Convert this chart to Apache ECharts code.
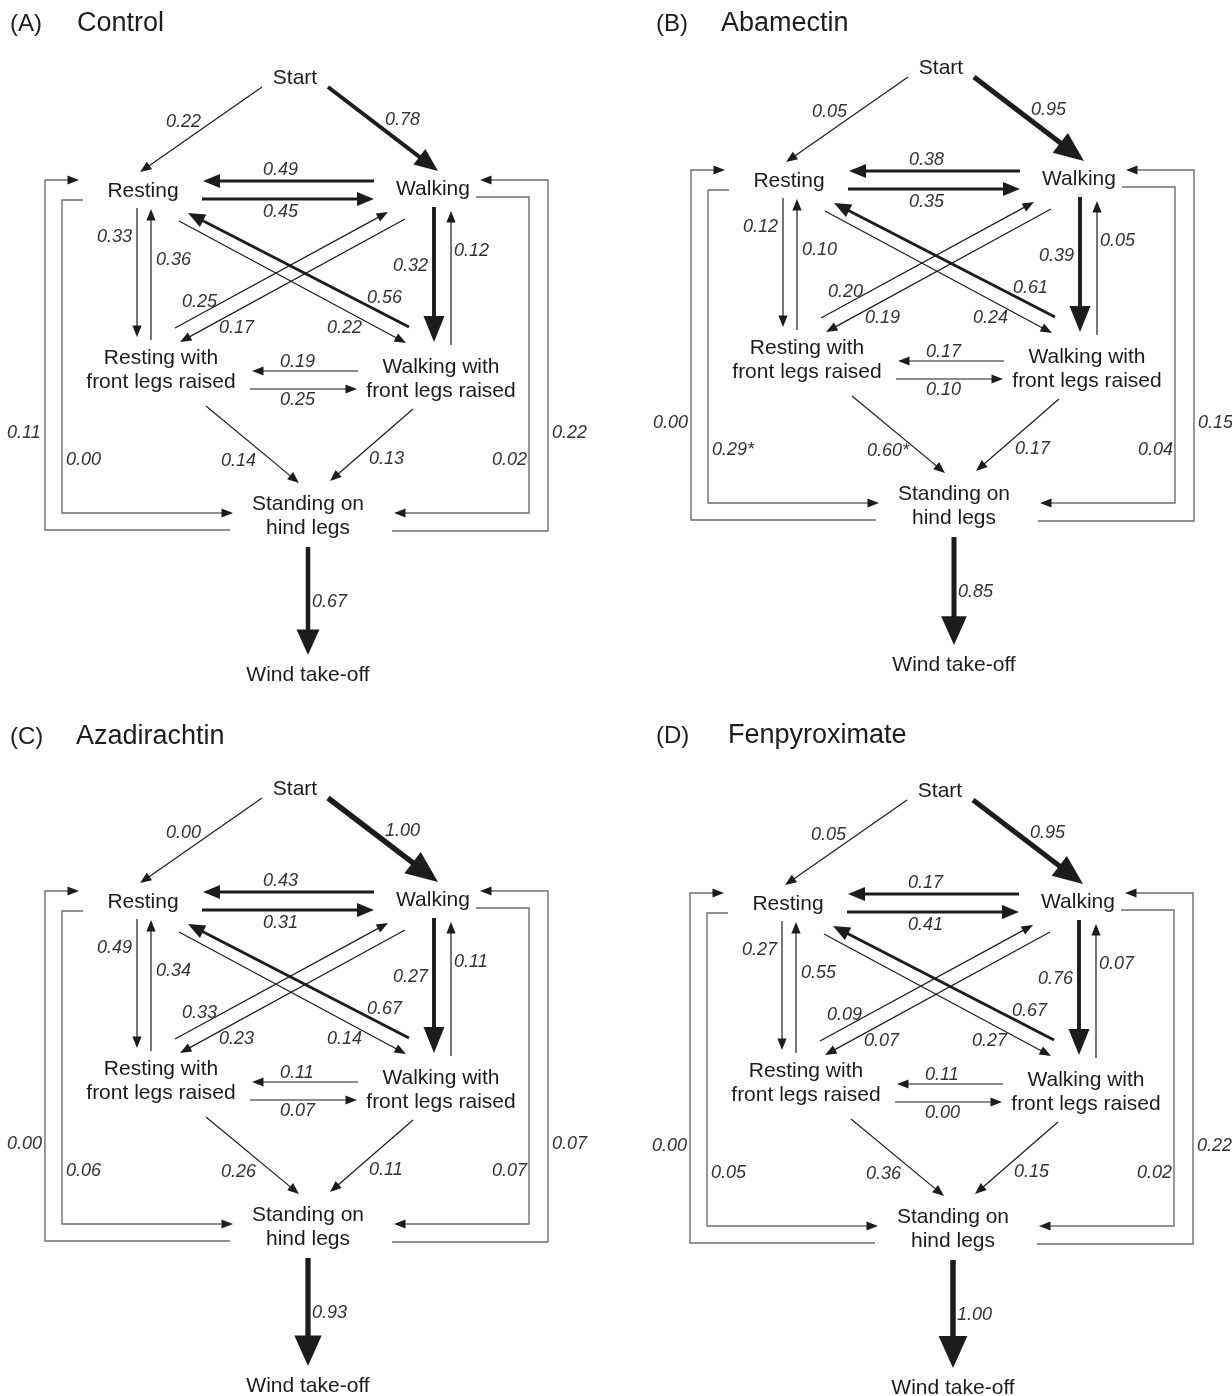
<!DOCTYPE html>
<html><head><meta charset="utf-8">
<script src="https://cdn.jsdelivr.net/npm/echarts/dist/echarts.min.js"></script>
<style>html,body{margin:0;padding:0;background:#fff}#c{width:1232px;height:1396px}</style>
</head><body><div id="c"></div>
<script>
// ---------------- DATA ----------------
const panelTags = ['(A)', '(B)', '(C)', '(D)'];
const panelNames = ['Control', 'Abamectin', 'Azadirachtin', 'Fenpyroximate'];
const states = ['Start', 'Resting', 'Walking', 'Resting with\nfront legs raised',
  'Walking with\nfront legs raised', 'Standing on\nhind legs', 'Wind take-off'];
// transitions: [from, to] (indices into states)
const transitions = [
  [0, 1], [0, 2], [2, 1], [1, 2], [1, 3], [3, 1], [2, 4], [4, 2], [3, 2], [2, 3],
  [1, 4], [4, 1], [4, 3], [3, 4], [3, 5], [4, 5], [1, 5], [5, 1], [2, 5], [5, 2], [5, 6]
];
const controlValues =       [0.22, 0.78, 0.49, 0.45, 0.33, 0.36, 0.32, 0.12, 0.25, 0.17, 0.22, 0.56, 0.19, 0.25, 0.14, 0.13, 0.00, 0.11, 0.02, 0.22, 0.67];
const abamectinValues =     [0.05, 0.95, 0.38, 0.35, 0.12, 0.10, 0.39, 0.05, 0.20, 0.19, 0.24, 0.61, 0.17, 0.10, 0.60, 0.17, 0.29, 0.00, 0.04, 0.15, 0.85];
const azadirachtinValues =  [0.00, 1.00, 0.43, 0.31, 0.49, 0.34, 0.27, 0.11, 0.33, 0.23, 0.14, 0.67, 0.11, 0.07, 0.26, 0.11, 0.06, 0.00, 0.07, 0.07, 0.93];
const fenpyroximateValues = [0.05, 0.95, 0.17, 0.41, 0.27, 0.55, 0.76, 0.07, 0.09, 0.07, 0.27, 0.67, 0.11, 0.00, 0.36, 0.15, 0.05, 0.00, 0.02, 0.22, 1.00];
// transitions marked with * (significant), by transition index
const controlSignificant = [];
const abamectinSignificant = [14, 16];
const azadirachtinSignificant = [];
const fenpyroximateSignificant = [];

const panelValues = [controlValues, abamectinValues, azadirachtinValues, fenpyroximateValues];
const panelSignificant = [controlSignificant, abamectinSignificant, azadirachtinSignificant, fenpyroximateSignificant];

// ---------------- LAYOUT (diagram space, not data) ----------------
const panelOffset = [[0, 0], [646, -10], [0, 711], [645, 713]];
const titleLeft = [[10, 77], [656, 721], [10, 76], [656, 728]];
const titleTop = [25, 25, 738, 737];
const statePos = [[295, 78], [143, 191], [433, 189], [161, 370], [441, 379], [308, 516], [308, 675]];
const edgeLayout = [
  { pts: [[262, 87], [140, 172]], lab: [183, 122], cls: 'thin' },
  { pts: [[328, 87], [438, 171]], lab: [402, 120], cls: 'start' },
  { pts: [[374, 181], [203, 181]], lab: [280, 170], cls: 'mid' },
  { pts: [[202, 199], [374, 199]], lab: [280, 212], cls: 'mid' },
  { pts: [[137, 208], [137, 337]], lab: [114, 237], cls: 'thin' },
  { pts: [[151, 340], [151, 209]], lab: [173, 260], cls: 'thin' },
  { pts: [[434, 207], [434, 342]], lab: [410, 266], cls: 'thick' },
  { pts: [[451, 345], [451, 211]], lab: [471, 251], cls: 'thin' },
  { pts: [[175, 328], [388, 212]], lab: [199, 302], cls: 'thin' },
  { pts: [[405, 219], [180, 342]], lab: [236, 328], cls: 'thin' },
  { pts: [[179, 221], [406, 343]], lab: [344, 328], cls: 'thin' },
  { pts: [[409, 327], [188, 213]], lab: [384, 298], cls: 'mid' },
  { pts: [[358, 371], [252, 371]], lab: [297, 362], cls: 'thin' },
  { pts: [[250, 389], [357, 389]], lab: [297, 400], cls: 'thin' },
  { pts: [[206, 406], [299, 483]], lab: [238, 461], cls: 'thin' },
  { pts: [[413, 409], [330, 481]], lab: [386, 459], cls: 'thin' },
  { pts: [[83, 200], [62, 200], [62, 513], [233, 513]], lab: [83, 460], cls: 'loop' },
  { pts: [[230, 530], [45, 530], [45, 180], [79, 180]], lab: [24, 433], cls: 'loop' },
  { pts: [[476, 197], [529, 197], [529, 513], [394, 513]], lab: [509, 460], cls: 'loop' },
  { pts: [[392, 531], [548, 531], [548, 180], [480, 180]], lab: [569, 433], cls: 'loop' },
  { pts: [[308, 547], [308, 655]], lab: [329, 602], cls: 'wind' }
];

const FONT = '"Liberation Sans", Arial, Helvetica, sans-serif';
const INK = '#1c1c1c';

function styleFor(cls, v) {
  switch (cls) {
    case 'thin': return { lw: 1.2, len: 11.5, half: 4.6, color: INK, head: INK };
    case 'mid': return { lw: 2.9, len: 17, half: 7, color: INK, head: INK };
    case 'thick': return { lw: 3.9, len: 26, half: 10.5, color: INK, head: INK };
    case 'loop': return { lw: 1.4, len: 11.5, half: 4.6, color: '#6e6e6e', head: INK };
    case 'start': { const len = 10 + 22 * v * v; return { lw: 1.5 + 4 * v * v, len: len, half: len * 0.42, color: INK, head: INK }; }
    case 'wind': { const len = 20 + 12 * v * v; return { lw: 2.5 + 3 * v, len: len, half: len * 0.45, color: INK, head: INK }; }
  }
}

function fmt(p, e) {
  return panelValues[p][e].toFixed(2) + (panelSignificant[p].indexOf(e) >= 0 ? '*' : '');
}

function renderEdge(params, api) {
  const e = api.value(0), v = api.value(1), p = api.value(2);
  const L = edgeLayout[e], off = panelOffset[p];
  const pts = L.pts.map(q => api.coord([q[0] + off[0], q[1] + off[1]]));
  const st = styleFor(L.cls, v);
  const n = pts.length, a = pts[n - 2], b = pts[n - 1];
  const dx = b[0] - a[0], dy = b[1] - a[1], d = Math.hypot(dx, dy);
  const ux = dx / d, uy = dy / d, px = -uy, py = ux;
  const base = [b[0] - ux * st.len, b[1] - uy * st.len];
  const linePts = pts.slice(0, n - 1).concat([[b[0] - ux * st.len * 0.7, b[1] - uy * st.len * 0.7]]);
  const tri = [b, [base[0] + px * st.half, base[1] + py * st.half], [base[0] - px * st.half, base[1] - py * st.half]];
  const lp = api.coord([L.lab[0] + off[0] - 17, L.lab[1] + off[1]]);
  return {
    type: 'group', children: [
      { type: 'polyline', shape: { points: linePts }, style: { stroke: st.color, lineWidth: st.lw, fill: 'none', lineJoin: 'miter' } },
      { type: 'polygon', shape: { points: tri }, style: { fill: st.head, stroke: null } },
      { type: 'text', style: { text: fmt(p, e), x: lp[0], y: lp[1], align: 'left', verticalAlign: 'middle', font: 'italic 18px ' + FONT, fill: '#333' } }
    ]
  };
}

function renderState(params, api) {
  const s = api.value(0), p = api.value(1);
  const off = panelOffset[p];
  const c = api.coord([statePos[s][0] + off[0], statePos[s][1] + off[1]]);
  return { type: 'text', style: { text: states[s], x: c[0], y: c[1], align: 'center', verticalAlign: 'middle', font: '21px ' + FONT, lineHeight: 24, fill: INK } };
}

const series = [];
for (let p = 0; p < 4; p++) {
  series.push({
    type: 'custom', name: panelNames[p] + ' transitions', coordinateSystem: 'cartesian2d', clip: false,
    renderItem: renderEdge, encode: { x: 0, y: 1 },
    data: panelValues[p].map((v, e) => [e, v, p])
  });
  series.push({
    type: 'custom', name: panelNames[p] + ' states', coordinateSystem: 'cartesian2d', clip: false,
    renderItem: renderState, encode: { x: 0, y: 1 },
    data: states.map((s, i) => [i, p])
  });
}

const titles = [];
for (let p = 0; p < 4; p++) {
  titles.push({ text: panelTags[p], left: titleLeft[p][0], top: titleTop[p] - 13, padding: 0, textStyle: { fontSize: 24, fontWeight: 'normal', color: INK, fontFamily: FONT } });
  titles.push({ text: panelNames[p], left: titleLeft[p][1], top: titleTop[p] - 15, padding: 0, textStyle: { fontSize: 27, fontWeight: 'normal', color: INK, fontFamily: FONT } });
}

const chart = echarts.init(document.getElementById('c'), null, { renderer: 'canvas' });
chart.setOption({
  animation: false,
  backgroundColor: '#fff',
  title: titles,
  grid: { left: 0, top: 0, right: 0, bottom: 0 },
  xAxis: { type: 'value', min: 0, max: 1232, show: false },
  yAxis: { type: 'value', min: 0, max: 1396, inverse: true, show: false },
  series: series
});
</script></body></html>
